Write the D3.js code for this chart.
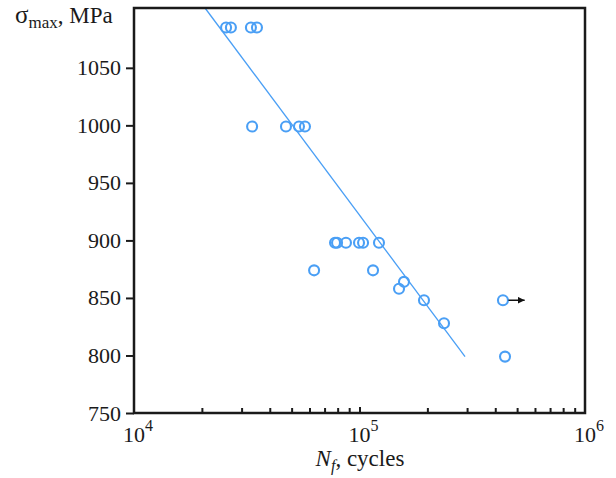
<!DOCTYPE html>
<html><head><meta charset="utf-8">
<script src="https://cdn.jsdelivr.net/npm/d3@7"></script>
<style>body{margin:0;background:#fff}svg{display:block}</style>
</head><body><svg id="c" width="616" height="478"></svg>
<script>
// ---- data ----
const cyclesNf = [25600, 26900, 33000, 35100,
                  33400, 47200, 53900, 57300,
                  77900, 79500, 87100, 99500, 103700, 122000,
                  62900, 114800,
                  157500, 149700, 193200, 237000, 432700, 441900];
const stressMPa = [1085, 1085, 1085, 1085,
                   999, 999, 999, 999,
                   898, 898, 898, 898, 898, 898,
                   874, 874,
                   864, 858, 848, 828, 848, 799];
const fitN = [20650, 293800];
const fitS = [1102, 799];
const runoutN = [432700];
const runoutEndN = [540000];
const runoutS = [848];
const yTicks = [750, 800, 850, 900, 950, 1000, 1050];
const xMajor = [1e4, 1e5, 1e6];
const xExp = ["4", "5", "6"];

// ---- layout ----
const L = 134, R = 585, T = 8, B = 413;
const blue = "#4a9ff5";
const font = "'Liberation Serif','Times New Roman',serif";
const svg = d3.select("#c");
const x = d3.scaleLog().domain([1e4, 1e6]).range([L, R]);
const y = d3.scaleLinear().domain([750, 1102]).range([B, T]);

// minor ticks
const minor = [];
[1e4, 1e5].forEach(d => { for (let k = 2; k <= 9; k++) minor.push(d * k); });

// fit line
svg.append("path")
  .attr("d", d3.line().x(d => x(d[0])).y(d => y(d[1]))(fitN.map((n, i) => [n, fitS[i]])))
  .attr("fill", "none").attr("stroke", blue).attr("stroke-width", 1.3);

// points
svg.append("g").selectAll("circle").data(cyclesNf).join("circle")
  .attr("cx", d => x(d)).attr("cy", (d, i) => y(stressMPa[i])).attr("r", 5)
  .attr("fill", "none").attr("stroke", blue).attr("stroke-width", 2.1);

// runout arrow
const defs = svg.append("defs");
defs.append("marker").attr("id", "ah").attr("viewBox", "0 0 10 10").attr("refX", 10).attr("refY", 5)
  .attr("markerWidth", 7).attr("markerHeight", 7).attr("markerUnits", "userSpaceOnUse").attr("orient", "auto")
  .append("path").attr("d", "M0,0L10,5L0,10Z").attr("fill", "#111");
svg.append("g").selectAll("line").data(runoutN).join("line")
  .attr("x1", d => x(d) + 5.5).attr("x2", (d, i) => x(runoutEndN[i]))
  .attr("y1", (d, i) => y(runoutS[i])).attr("y2", (d, i) => y(runoutS[i]))
  .attr("stroke", "#111").attr("stroke-width", 1.5).attr("marker-end", "url(#ah)");

// y axis
const yAx = svg.append("g").attr("transform", `translate(${L},0)`)
  .call(d3.axisLeft(y).tickValues(yTicks).tickSize(8).tickPadding(5).tickFormat(d3.format("d")));
yAx.select(".domain").remove();
yAx.selectAll("line").attr("stroke", "#1a1a1a").attr("stroke-width", 2);
yAx.selectAll("text").attr("font-family", font).attr("font-size", 22).attr("fill", "#1a1a1a");

// x minor ticks (inward)
const xAx = svg.append("g").attr("transform", `translate(0,${B})`)
  .call(d3.axisBottom(x).tickValues(minor).tickSize(-5).tickFormat(""));
xAx.select(".domain").remove();
xAx.selectAll("line").attr("stroke", "#1a1a1a").attr("stroke-width", 2);
const xAx2 = svg.append("g").attr("transform", `translate(0,${B})`)
  .call(d3.axisBottom(x).tickValues([1e5]).tickSize(-6).tickFormat(""));
xAx2.select(".domain").remove();
xAx2.selectAll("line").attr("stroke", "#1a1a1a").attr("stroke-width", 2);

// x labels
const xl = svg.append("g").selectAll("text").data(xMajor).join("text")
  .attr("x", d => x(d) + 4).attr("y", 442).attr("text-anchor", "middle")
  .attr("font-family", font).attr("font-size", 22).attr("fill", "#1a1a1a");
xl.append("tspan").text("10");
xl.append("tspan").attr("dy", -11).attr("font-size", 16).text((d, i) => xExp[i]);

// frame
svg.append("rect").attr("x", L).attr("y", T).attr("width", R - L).attr("height", B - T)
  .attr("fill", "none").attr("stroke", "#1a1a1a").attr("stroke-width", 2.5);

// axis titles
const xt = svg.append("text").attr("x", 360).attr("y", 466).attr("text-anchor", "middle")
  .attr("font-family", font).attr("font-size", 23).attr("fill", "#1a1a1a");
xt.append("tspan").attr("font-style", "italic").text("N");
xt.append("tspan").attr("font-style", "italic").attr("font-size", 16).attr("dy", 5).text("f");
xt.append("tspan").attr("dy", -5).text(", cycles");

const yt = svg.append("text").attr("x", 15).attr("y", 23)
  .attr("font-family", font).attr("font-size", 23).attr("fill", "#1a1a1a");
yt.append("tspan").attr("font-size", 25).text("σ");
yt.append("tspan").attr("font-size", 17).attr("dy", 5).text("max");
yt.append("tspan").attr("dy", -5).text(", MPa");
</script></body></html>
